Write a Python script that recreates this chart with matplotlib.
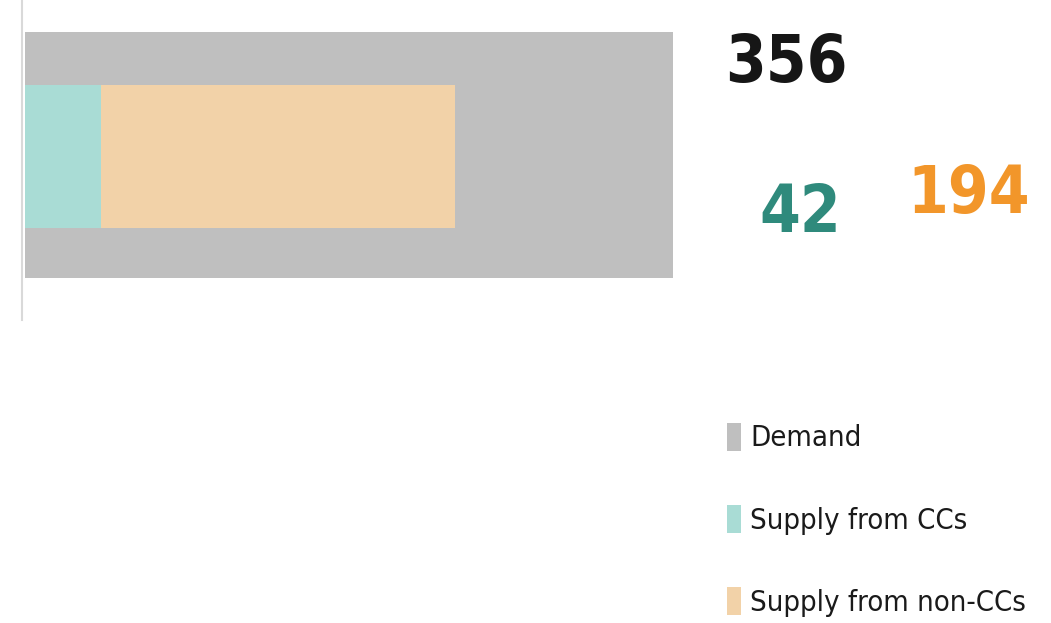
import matplotlib.pyplot as plt
from matplotlib.patches import Patch

W, H = 1051, 623

# data
categories = ["Demand", "Supply from CCs", "Supply from non-CCs"]
demand = 356
supply_cc = 42
supply_noncc = 194

bar_colors = ["#bfbfbf", "#a9dcd5", "#f2d2a8"]
text_colors = ["#161616", "#2f8a7c", "#f2962a"]

plt.rcParams["font.family"] = ["DejaVu Sans"]
plt.rcParams["font.stretch"] = "condensed"

fig = plt.figure(figsize=(W / 100, H / 100), dpi=100)
# axes from x=25px to x=673px, y from top to 320px
ax = fig.add_axes([25 / W, 1 - 320 / H, (673 - 25) / W, 320 / H])
ax.set_xlim(0, demand)
ax.set_ylim(320, 0)

ax.barh(155, demand, height=246, color=bar_colors[0], label=categories[0])
ax.barh(156.5, supply_cc, height=143, color=bar_colors[1], label=categories[1])
ax.barh(156.5, supply_noncc, left=supply_cc, height=143,
        color=bar_colors[2], label=categories[2])

for s in ["top", "right", "bottom"]:
    ax.spines[s].set_visible(False)
ax.spines["left"].set_color("#d9d9d9")
ax.spines["left"].set_linewidth(1.5)
ax.spines["left"].set_position(("outward", 2))
ax.set_xticks([])
ax.set_yticks([])


def ftext(x, y, s, **kw):
    fig.text(x / W, 1 - y / H, s, va="baseline", ha="left", **kw)


ftext(725, 82, str(demand), fontsize=47, fontweight="bold", color=text_colors[0])
ftext(759, 232, str(supply_cc), fontsize=47, fontweight="bold", color=text_colors[1])
ftext(907, 213, str(supply_noncc), fontsize=47, fontweight="bold", color=text_colors[2])

handles = [Patch(facecolor=c, edgecolor="none") for c in bar_colors]
fs = 21
leg = fig.legend(handles, categories, loc="upper left",
                 bbox_to_anchor=(712 / W, 1 - 408 / H), frameon=False,
                 fontsize=fs, handlelength=0.5, handleheight=1.1,
                 handletextpad=0.3, labelspacing=1.8, borderpad=0)
for t in leg.get_texts():
    t.set_color("#1a1a1a")

fig.savefig("out.png", dpi=100)
